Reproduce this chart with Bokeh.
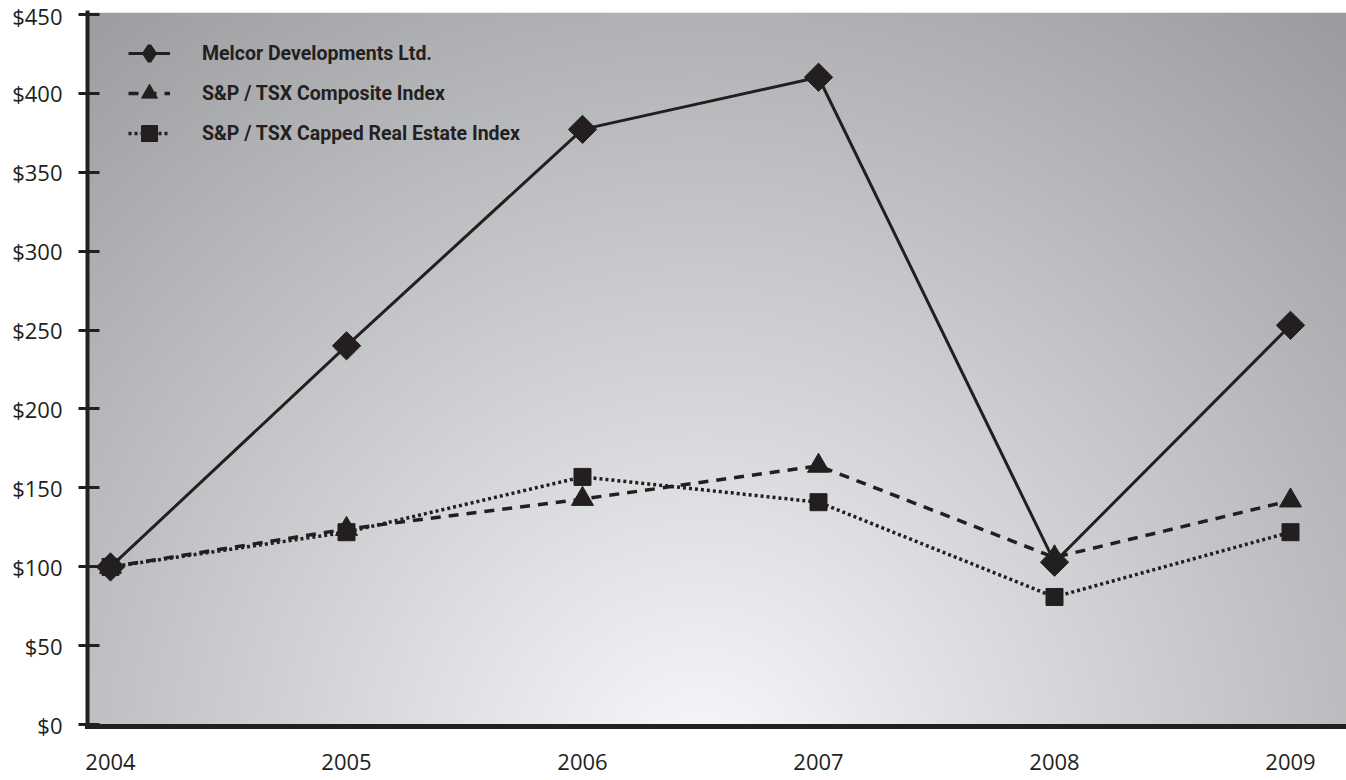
import numpy as np
from bokeh.plotting import figure
from bokeh.models import Range1d, FixedTicker, Legend, LegendItem
from bokeh.embed import file_html
from bokeh.resources import INLINE

# ---- data ----
years = [2004, 2005, 2006, 2007, 2008, 2009]
melcor = [100, 240, 377, 410, 103, 253]
composite = [100, 124, 143, 164, 106, 142]
real_estate = [100, 122, 157, 141, 81, 122]
series_names = ["Melcor Developments Ltd.", "S&P / TSX Composite Index",
                "S&P / TSX Capped Real Estate Index"]
y_ticks = [0, 50, 100, 150, 200, 250, 300, 350, 400, 450]
y_tick_labels = ["$0", "$50", "$100", "$150", "$200", "$250", "$300", "$350", "$400", "$450"]
x_tick_labels = ["2004", "2005", "2006", "2007", "2008", "2009"]

INK = "#231f20"
W_PX, H_PX = 1346, 780
LEFT, TOP, BOTTOM = 87, 12, 54
FW, FH = W_PX - LEFT, H_PX - TOP - BOTTOM

x0, x1 = 2004 - 23 / 236.0, 2009 + 56 / 236.0
y0, y1 = -1.0, 451.0

p = figure(width=W_PX, height=H_PX, output_backend="svg", toolbar_location=None,
           x_range=Range1d(x0, x1), y_range=Range1d(y0, y1),
           min_border_left=LEFT, min_border_top=TOP, min_border_bottom=BOTTOM,
           min_border_right=0)
p.outline_line_color = None
p.xgrid.visible = False
p.ygrid.visible = False
p.background_fill_color = "white"
p.border_fill_color = "white"

# ---- radial gradient background (styling) ----
xs = LEFT + np.arange(FW) + 0.5
ys = (TOP + FH) - (np.arange(FH) + 0.5)
X, Y = np.meshgrid(xs, ys)
d = np.hypot(X - 700, Y - 775)
v = np.clip(250 - 0.0945 * d, 0, 255)
img = np.empty((FH, FW), dtype=np.uint32)
view = img.view(dtype=np.uint8).reshape((FH, FW, 4))
view[..., 0] = np.clip(v - 1.5, 0, 255).astype(np.uint8)
view[..., 1] = np.clip(v - 0.5, 0, 255).astype(np.uint8)
view[..., 2] = np.clip(v + 2.0, 0, 255).astype(np.uint8)
view[..., 3] = 255
p.image_rgba(image=[img], x=x0, y=y0, dw=x1 - x0, dh=y1 - y0)

# ---- series ----
l2 = p.line(years, composite, line_color=INK, line_width=3.5, line_dash="10 8")
m2 = p.scatter(years, composite, marker="triangle", size=22, fill_color=INK,
               line_color=INK, line_width=1)
l3 = p.line(years, real_estate, line_color=INK, line_width=3.5, line_dash="3 3")
m3 = p.scatter(years, real_estate, marker="square", size=17, fill_color=INK,
               line_color=INK, line_width=1)
l1 = p.line(years, melcor, line_color=INK, line_width=3)
m1 = p.scatter(years, melcor, marker="square", angle=np.pi / 4, size=20,
               fill_color=INK, line_color=INK, line_width=1)
# legend-only key glyph for the diamond (legend keys ignore marker angle);
# its single point is NaN so nothing is drawn in the plot area
k1 = p.scatter(x=[float("nan")], y=[float("nan")], marker="diamond",
               fill_color=INK, line_color=INK, line_width=4)

legend = Legend(items=[
    LegendItem(label=series_names[0], renderers=[l1, k1]),
    LegendItem(label=series_names[1], renderers=[l2, m2]),
    LegendItem(label=series_names[2], renderers=[l3, m3]),
], location=(41, FH - 141))
legend.background_fill_alpha = 0
legend.border_line_alpha = 0
legend.glyph_width = 42
legend.glyph_height = 40
legend.label_height = 20
legend.label_standoff = 32
legend.spacing = 0
legend.padding = 0
legend.margin = 0
legend.label_text_font = "Roboto"
legend.label_text_font_style = "bold"
legend.label_text_font_size = "19.5px"
legend.label_text_color = INK
p.add_layout(legend)

# ---- axes ----
FONT = "Open Sans"
p.yaxis.ticker = FixedTicker(ticks=y_ticks)
p.yaxis.major_label_overrides = {t: s for t, s in zip(y_ticks, y_tick_labels)}
p.xaxis.ticker = FixedTicker(ticks=years)
p.xaxis.major_label_overrides = {t: s for t, s in zip(years, x_tick_labels)}
for ax in (p.xaxis[0], p.yaxis[0]):
    ax.axis_line_color = INK
    ax.axis_line_cap = "square"
    ax.major_label_text_font = FONT
    ax.major_label_text_font_size = "22px"
    ax.major_label_text_color = INK
    ax.minor_tick_line_color = None
p.yaxis.axis_line_width = 4
p.yaxis.major_tick_line_color = INK
p.yaxis.major_tick_line_width = 3
p.yaxis.major_tick_out = 9
p.yaxis.major_tick_in = 12
p.yaxis.major_label_standoff = 16
p.xaxis.axis_line_width = 5
p.xaxis.major_tick_line_color = None
p.xaxis.major_tick_out = 0
p.xaxis.major_tick_in = 0
p.xaxis.major_label_standoff = 27

open("out.html", "w").write(file_html(p, INLINE))
